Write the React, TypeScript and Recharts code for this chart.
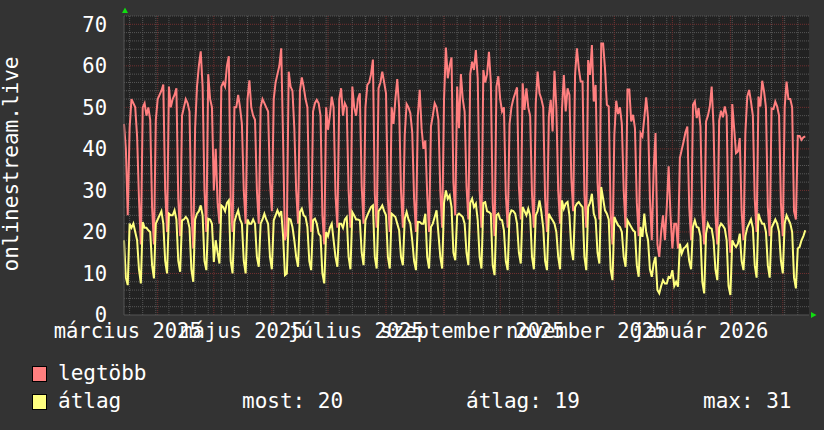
import React from 'react';
import { LineChart, Line, XAxis, YAxis, CartesianGrid } from 'recharts';

const FONT = '"DejaVu Sans Mono", monospace';
const RED = '#ff7f7f';
const YELLOW = '#ffff7f';

// one value per day, from Fri 2025-03-14; each row below is Sat..Fri
const legtobb = [
  46,
  40, 24, 45, 52, 51, 50, 43,
  28, 17, 50, 51, 48, 50, 47,
  26, 17, 47, 52, 53, 54, 55.5,
  30, 20, 55, 50, 52, 53, 54.6,
  28, 19, 48, 50, 52, 51, 49,
  25, 16, 45, 55, 60, 63.5, 55,
  30, 20, 58, 52, 50, 30, 40,
  27, 22, 55, 56, 55, 60, 62.3,
  28, 20, 50, 50, 53, 50, 46,
  30, 22, 52, 56.5, 50, 48, 47,
  30, 22, 50, 52, 51, 50, 49,
  32, 25, 52, 56, 58, 60, 64.2,
  42, 18, 20, 58.6, 55, 54, 45,
  30, 22, 54, 57.2, 55, 52, 50,
  28, 20, 49, 51, 51.8, 51, 48,
  24, 17, 50, 44.6, 48, 52.6, 50,
  29, 21, 52, 54.6, 48, 51, 50,
  30, 21, 55, 50, 48, 52, 53.4,
  31, 22, 50, 55.4, 56, 58, 61.5,
  29, 21, 54.6, 56, 58.6, 56, 53.4,
  28, 20, 50, 46, 52, 56.8, 50,
  30, 21, 43.4, 50.8, 50, 48.6, 44,
  28, 20, 48, 54.2, 45, 40, 42,
  29, 20, 45.4, 48, 51, 50, 47,
  30, 21, 52, 64.4, 57, 60, 62,
  32, 24, 55, 45, 58, 52, 49,
  31, 23, 58, 61, 59, 63.8, 57,
  30, 21, 59, 56, 58, 63.4, 56,
  27, 19, 55, 57.5, 52, 49, 50,
  29, 21, 46, 50, 52, 53.4, 54.8,
  31, 23, 55.8, 49.4, 54.6, 50, 48,
  29, 21, 51, 58.6, 53.4, 52, 50,
  28, 20, 47.8, 51.8, 44.2, 58.8, 50,
  30, 22, 49.4, 57.8, 49, 54.6, 53,
  33, 25, 57.8, 64.2, 59.4, 56.2, 56.2,
  29, 21, 61.4, 57.8, 65, 51.4, 55.4,
  32, 23, 65.4, 65.4, 59.4, 50.6, 50.2,
  25, 17, 43.4, 51.6, 48.4, 50, 46,
  30, 21, 54.3, 54.3, 46.6, 48.2, 45,
  27, 19, 43.8, 43, 47.4, 52.4, 47.4,
  28, 18, 35, 43.8, 17, 14, 20,
  24, 18, 26, 35.8, 24, 16, 22,
  22, 16, 37.8, 39.8, 41.8, 44, 45.4,
  26, 18, 50.6, 51.4, 47.4, 49.8, 45.4,
  25, 17, 46.6, 48, 50.2, 55, 45.4,
  24, 17, 46.8, 49.2, 47.6, 50.2, 48,
  22, 15, 50.8, 45, 39, 39.4, 42.6,
  25, 18, 43.8, 52.6, 54.2, 51.4, 48,
  28, 20, 52.6, 50.2, 56.4, 53.8, 50,
  26, 19, 49.7, 49.6, 51.4, 50.2, 48,
  27, 19, 50, 56.2, 52, 52, 50,
  25, 23, 43.1, 43.1, 42.2, 42.8, 43
];

const atlag = [
  18,
  9, 7.2, 22, 21, 22, 20, 18,
  11, 7.6, 22.4, 21, 21, 20.4, 20,
  12, 8.8, 22, 23, 24, 25, 22,
  13, 10, 24.4, 24, 24, 25.2, 23,
  13, 10.4, 22.8, 23, 23.6, 23, 21,
  11, 8, 23, 24.4, 25, 26.4, 24,
  13, 10.8, 23.2, 23, 22, 12.8, 18,
  15, 12.4, 26.4, 26, 25, 27, 27.6,
  13, 10, 22.4, 24, 25.2, 23, 22,
  13, 10, 23, 22, 22, 23, 22,
  14, 11.6, 22, 23, 24.4, 23, 22,
  14, 11, 22.8, 24, 25.2, 24, 25,
  19, 9.6, 10, 23.2, 23, 21.2, 18,
  14, 11.6, 24.8, 25.6, 24, 23.6, 21.2,
  13, 10.8, 22.8, 23.2, 22, 19.6, 19,
  10, 7.6, 20, 19, 21, 22, 18,
  14, 11.6, 22, 22, 21, 23, 23.6,
  14, 11, 24.8, 24, 23, 23, 22.8,
  15, 12, 22.8, 24, 25, 26, 26.4,
  14, 11.2, 25, 25.6, 26.4, 25, 24,
  14, 11.2, 24.4, 24, 23.6, 22, 20.4,
  14, 12, 23.2, 24.8, 23, 22, 18,
  13, 10.8, 22.4, 22.4, 22, 22, 24.4,
  14, 11.2, 21.2, 22, 23.6, 25.2, 19.6,
  14, 11.2, 27, 30, 28, 28.8, 26,
  15, 13.2, 24, 24.4, 24, 23.6, 22,
  15, 12, 27, 28, 26, 26.8, 22.8,
  14, 11.2, 27, 27.2, 25, 24.8, 24.4,
  12, 9.6, 24, 24.4, 23, 22.8, 20.4,
  13, 10.8, 24, 25.2, 25, 24.4, 22,
  15, 12.4, 26, 25, 24, 25.6, 24,
  14, 11, 24, 25, 27.6, 24.8, 21,
  13, 10.8, 24.4, 23.5, 22.8, 22, 20,
  14, 11, 27.6, 25.6, 26.8, 27.2, 24,
  16, 13.2, 26, 26.8, 27.2, 26.5, 26,
  14, 10.8, 26, 27, 29.2, 24.4, 23,
  15, 12.4, 30.8, 28, 25.2, 24.4, 23,
  11, 8.4, 23.6, 22.5, 21.6, 21.2, 20,
  14, 11.6, 22.8, 22, 21.2, 20.4, 20,
  12, 9.2, 21.2, 18.8, 24.4, 20, 18,
  11, 9.2, 12.4, 14, 6, 5.2, 7,
  8.4, 7.6, 7.6, 9.2, 9, 10.8, 7,
  8, 6.8, 17.2, 14.8, 16, 16.4, 17,
  13, 11, 21.2, 22.8, 21.2, 21, 19,
  8, 5.2, 19.6, 22, 21, 20.8, 18,
  11, 8.4, 21, 22, 21.5, 20.8, 18,
  7, 4.8, 18, 17, 16.4, 17.2, 19.6,
  13, 10.8, 19, 21, 22, 23, 21,
  12, 9, 24.4, 23, 22, 22, 20,
  12, 9, 21, 22, 23, 22, 20,
  13, 10, 22, 24, 23, 22, 20,
  9, 6.4, 16, 16.4, 18, 19, 20.4
];

const monthLabels = ['március 2025', 'május 2025', 'július 2025', 'szeptember 2025', 'november 2025', 'január 2026'];
const monthLabelDays = [2, 63, 124, 186, 247, 308];
const monthStartDays = [18, 48, 79, 109, 140, 171, 201, 232, 262, 293, 324, 352];
const yTicks = [0, 10, 20, 30, 40, 50, 60, 70];
const yMajor = [10, 20, 30, 40, 50, 60, 70];

const legendRows = [
  { name: 'legtöbb', color: RED },
  { name: 'átlag', color: YELLOW }
];
const stats = ['most: 20', 'átlag: 19', 'max: 31'];

const chartData = legtobb.map((v, i) => ({ day: i, legtobb: v, atlag: atlag[i] }));
const mondays = Array.from({ length: 52 }, (_, k) => 3 + 7 * k);
const yMinor = Array.from({ length: 37 }, (_, k) => 2 * k).filter((v) => v % 10 !== 0);

const labelFor = (day: number) => {
  const idx = monthLabelDays.indexOf(day);
  return idx >= 0 ? monthLabels[idx] : '';
};

export default function App() {
  return (
    <div style={{ position: 'absolute', left: 0, top: 0, width: 824, height: 430, background: '#333333', overflow: 'hidden' }}>
      <LineChart
        width={824}
        height={430}
        data={chartData}
        margin={{ top: 16, right: 15, left: 0, bottom: 85 }}
      >
        <CartesianGrid
          fill="#222222"
          stroke="#575757"
          strokeDasharray="1 1"
          horizontalValues={yMinor}
          verticalValues={mondays}
        />
        <CartesianGrid
          stroke="#703030"
          strokeDasharray="1 1"
          horizontalValues={yMajor}
          verticalValues={monthStartDays}
        />
        <XAxis
          dataKey="day"
          type="number"
          domain={[0, 366]}
          ticks={monthLabelDays}
          interval={0}
          height={30}
          tickLine={false}
          tickSize={6}
          tickMargin={2}
          axisLine={{ stroke: '#555555' }}
          tickFormatter={labelFor}
          tick={{ fill: '#ffffff', fontSize: 20.5, fontFamily: FONT }}
        />
        <YAxis
          type="number"
          domain={[0, 72]}
          ticks={yTicks}
          interval={0}
          width={124}
          tickLine={false}
          tickSize={6}
          tickMargin={11}
          axisLine={{ stroke: '#555555' }}
          tick={{ fill: '#ffffff', fontSize: 20.5, fontFamily: FONT }}
        />
        <Line
          type="linear"
          dataKey="legtobb"
          stroke={RED}
          strokeWidth={2}
          dot={false}
          isAnimationActive={false}
        />
        <Line
          type="linear"
          dataKey="atlag"
          stroke={YELLOW}
          strokeWidth={2}
          dot={false}
          isAnimationActive={false}
        />
      </LineChart>
      <svg
        width={824}
        height={430}
        style={{ position: 'absolute', left: 0, top: 0, pointerEvents: 'none' }}
      >
        <polygon points="122,13 128,13 125,7.5" fill="#11dd11" />
        <polygon points="811,312 811,318 816.5,315" fill="#11dd11" />
        <text
          x={18}
          y={164}
          transform="rotate(-90 18 164)"
          textAnchor="middle"
          fill="#ffffff"
          fontSize={21}
          fontFamily={FONT}
        >
          onlinestream.live
        </text>
        {legendRows.map((row, i) => (
          <g key={row.name}>
            <rect x={32.5} y={366.5 + i * 28} width={14} height={15} fill={row.color} stroke="#000000" />
            <text x={58} y={380 + i * 28} fill="#ffffff" fontSize={21} fontFamily={FONT}>
              {row.name}
            </text>
          </g>
        ))}
        {stats.map((s, i) => (
          <text key={s} x={[242, 466, 703][i]} y={408} fill="#ffffff" fontSize={21} fontFamily={FONT}>
            {s}
          </text>
        ))}
      </svg>
    </div>
  );
}
